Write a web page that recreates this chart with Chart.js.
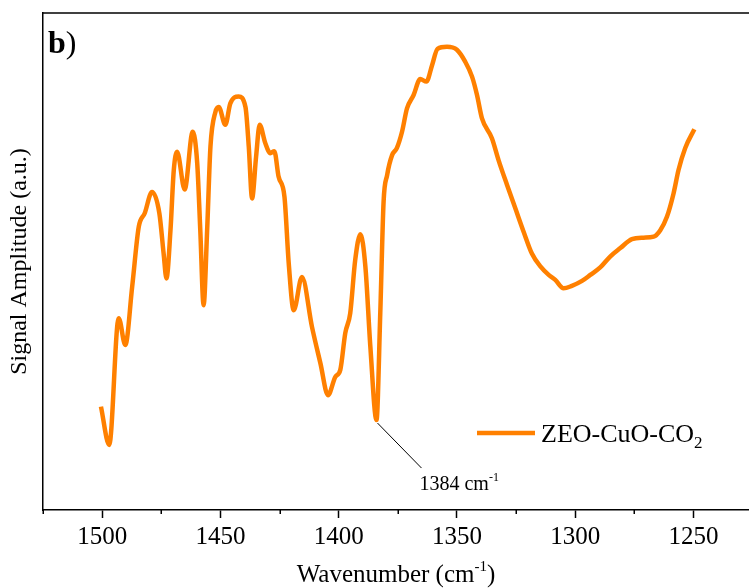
<!DOCTYPE html>
<html>
<head>
<meta charset="utf-8">
<script src="https://cdn.jsdelivr.net/npm/chart.js@4.4.1/dist/chart.umd.min.js"></script>
<style>
  html, body { margin: 0; padding: 0; background: #fff; }
  #wrap { width: 749px; height: 588px; }
</style>
</head>
<body>
<div id="wrap"><canvas id="c" width="749" height="588"></canvas></div>
<script>
// FTIR signal, ZEO-CuO-CO2 sample (arbitrary amplitude units)
const wavenumbers = [
  1500.5, 1497.0, 1493.0, 1490.2, 1487.3, 1484.5, 1482.0, 1478.9, 1475.8, 1474.0,
  1472.8, 1471.1, 1469.7, 1468.3, 1465.1, 1461.7, 1459.8, 1458.5, 1457.1, 1455.6,
  1454.2, 1452.1, 1450.7, 1447.9, 1445.8, 1442.3, 1439.4, 1438.0, 1436.6, 1434.9,
  1433.4, 1431.0, 1428.9, 1427.2, 1425.4, 1422.9, 1421.1, 1419.0, 1415.5, 1411.3,
  1407.7, 1404.5, 1401.4, 1399.3, 1397.2, 1395.1, 1393.0, 1390.8, 1388.7, 1386.6,
  1384.0, 1382.4, 1381.0, 1379.5, 1377.4, 1375.4, 1373.2, 1371.1, 1368.3, 1365.5,
  1362.9, 1360.5, 1358.2, 1354.2, 1350.0, 1346.5, 1343.6, 1341.5, 1339.4, 1335.2,
  1332.4, 1328.8, 1325.3, 1321.8, 1318.3, 1314.7, 1311.2, 1308.4, 1304.9, 1301.4,
  1297.1, 1293.6, 1289.4, 1285.2, 1280.9, 1276.0, 1271.1, 1266.8, 1264.0, 1261.2,
  1258.4, 1256.3, 1253.5, 1249.6
];
const amplitude = [
  20.8, 13.1, 38.6, 33.2, 44.9, 57.0, 59.7, 64.0, 59.7, 51.6,
  46.6, 56.3, 68.4, 72.1, 64.5, 76.1, 69.8, 56.3, 41.2, 56.3,
  73.1, 80.1, 81.1, 77.5, 81.8, 83.2, 81.1, 73.1, 62.7, 71.1,
  77.5, 73.8, 71.8, 72.2, 67.1, 63.0, 49.6, 40.2, 46.9, 36.9,
  29.5, 23.1, 26.8, 28.2, 35.6, 39.6, 50.3, 55.5, 49.0, 32.9,
  18.1, 39.6, 62.0, 67.4, 71.4, 72.8, 76.1, 80.8, 83.5, 86.7,
  86.2, 89.5, 92.8, 93.2, 92.6, 90.2, 87.2, 83.5, 78.8, 74.8,
  70.4, 65.4, 60.7, 56.0, 51.6, 49.0, 47.3, 46.3, 44.6, 45.1,
  46.1, 47.3, 48.8, 51.0, 52.7, 54.5, 54.8, 55.0, 56.3, 59.0,
  63.7, 68.4, 72.8, 76.6
];

const xTicks = [1525, 1500, 1475, 1450, 1425, 1400, 1375, 1350, 1325, 1300, 1275, 1250];
const majorTicks = [1500, 1450, 1400, 1350, 1300, 1250];
const markedPeak = 1384;
const seriesName = 'ZEO-CuO-CO';
const seriesSub = '2';

const SERIF = '"Liberation Serif", "Times New Roman", serif';
const ORANGE = '#FF8000';

// Draws a run of text pieces with their own size and vertical shift
function drawRich(ctx, parts, x, y, align) {
  let total = 0;
  parts.forEach(p => { ctx.font = p.font; p.w = ctx.measureText(p.text).width; total += p.w; });
  let cx = align === 'center' ? x - total / 2 : x;
  ctx.textAlign = 'left';
  ctx.textBaseline = 'alphabetic';
  parts.forEach(p => { ctx.font = p.font; ctx.fillText(p.text, cx, y + (p.dy || 0)); cx += p.w; });
}

const decorations = {
  id: 'decorations',
  afterDraw(chart) {
    const { ctx, chartArea: a, scales: { x, y } } = chart;
    ctx.save();
    ctx.fillStyle = '#000';
    ctx.strokeStyle = '#000';

    // top frame edge
    ctx.lineWidth = 1.5;
    ctx.beginPath();
    ctx.moveTo(a.left - 0.75, a.top);
    ctx.lineTo(a.right, a.top);
    ctx.stroke();

    // minor ticks
    ctx.lineWidth = 1.5;
    xTicks.filter(v => !majorTicks.includes(v)).forEach(v => {
      const px = Math.round(x.getPixelForValue(v)) + 0.25;
      ctx.beginPath();
      ctx.moveTo(px, a.bottom);
      ctx.lineTo(px, a.bottom + 4);
      ctx.stroke();
    });

    // panel tag
    drawRich(ctx, [
      { text: 'b', font: 'bold 32px ' + SERIF },
      { text: ')', font: '32px ' + SERIF }
    ], a.left + 5, a.top + 40, 'left');

    // x-axis title
    drawRich(ctx, [
      { text: 'Wavenumber (cm', font: '25px ' + SERIF },
      { text: '-1', font: '15px ' + SERIF, dy: -11 },
      { text: ')', font: '25px ' + SERIF }
    ], (a.left + a.right) / 2, 582, 'center');

    // legend
    ctx.strokeStyle = ORANGE;
    ctx.lineWidth = 4.5;
    ctx.beginPath();
    ctx.moveTo(477, 433);
    ctx.lineTo(535, 433);
    ctx.stroke();
    drawRich(ctx, [
      { text: seriesName, font: '26px ' + SERIF },
      { text: seriesSub, font: '17px ' + SERIF, dy: 6 }
    ], 541, 442, 'left');

    // peak marker
    const idx = wavenumbers.indexOf(markedPeak);
    const px = x.getPixelForValue(markedPeak);
    const py = y.getPixelForValue(amplitude[idx]);
    ctx.strokeStyle = '#000';
    ctx.lineWidth = 1;
    ctx.beginPath();
    ctx.moveTo(px + 1, py + 3);
    ctx.lineTo(px + 45, py + 48);
    ctx.stroke();
    drawRich(ctx, [
      { text: markedPeak + ' cm', font: '20px ' + SERIF },
      { text: '-1', font: '12px ' + SERIF, dy: -9 }
    ], px + 43, py + 70, 'left');

    ctx.restore();
  }
};

new Chart(document.getElementById('c'), {
  type: 'line',
  data: {
    datasets: [{
      label: seriesName + seriesSub,
      data: wavenumbers.map((w, i) => ({ x: w, y: amplitude[i] })),
      borderColor: ORANGE,
      borderWidth: 4.5,
      pointRadius: 0,
      cubicInterpolationMode: 'monotone',
      borderJoinStyle: 'round',
      fill: false
    }]
  },
  options: {
    responsive: false,
    devicePixelRatio: 1,
    animation: false,
    layout: { padding: { top: 13, left: 0, right: 0, bottom: 0 } },
    plugins: { legend: { display: false }, tooltip: { enabled: false } },
    scales: {
      x: {
        type: 'linear',
        reverse: true,
        min: 1226.5,
        max: 1525,
        afterBuildTicks: s => { s.ticks = xTicks.map(v => ({ value: v })); },
        afterFit: s => { s.height = 78; },
        border: { display: true, color: '#000', width: 1.5 },
        grid: {
          display: true,
          drawOnChartArea: false,
          drawTicks: true,
          tickLength: 8,
          tickWidth: 1.5,
          tickColor: c => (c.tick && majorTicks.includes(c.tick.value)) ? '#000' : 'rgba(0,0,0,0)'
        },
        ticks: {
          autoSkip: false,
          maxRotation: 0,
          padding: 4,
          color: '#000',
          font: { family: SERIF, size: 25 },
          callback: v => majorTicks.includes(v) ? String(v) : ''
        }
      },
      y: {
        min: 0,
        max: 100,
        afterFit: s => { s.width = 43; },
        border: { display: true, color: '#000', width: 1.5 },
        grid: { display: false },
        ticks: { display: false },
        title: {
          display: true,
          text: 'Signal Amplitude (a.u.)',
          color: '#000',
          font: { family: SERIF, size: 24 },
          padding: { top: 5, bottom: 0 }
        }
      }
    }
  },
  plugins: [decorations]
});
</script>
</body>
</html>
